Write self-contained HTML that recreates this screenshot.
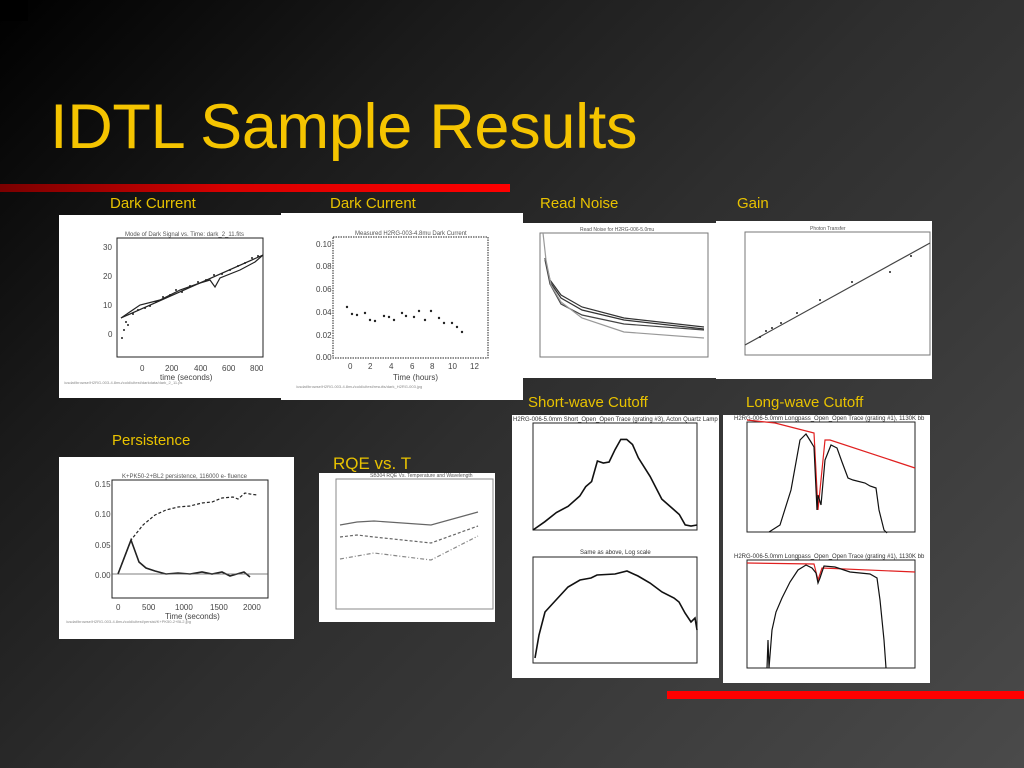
<!DOCTYPE html>
<html><head><meta charset="utf-8"><style>
html,body{margin:0;padding:0}
body{width:1024px;height:768px;overflow:hidden;position:relative;background:linear-gradient(135deg,#000 0%,#1a1a1a 25%,#2e2e2e 50%,#3c3c3c 75%,#4a4a4a 100%);font-family:"Liberation Sans",sans-serif}
.t{position:absolute;left:50px;top:91px;font-size:63px;color:#f5c400;white-space:nowrap;letter-spacing:-0.3px}
.l{position:absolute;color:#e8c200;font-size:15px;white-space:nowrap}
.bar{position:absolute;height:8px}
.sq{position:absolute;left:0;top:0;width:28px;height:21px;background:#000}
svg{position:absolute;left:0;top:0}
</style></head><body>
<div class="sq"></div>
<div class="t">IDTL Sample Results</div>
<div class="bar" style="left:0;top:184px;width:510px;background:linear-gradient(90deg,#7a0000,#d80000 45%,#ff0000)"></div>
<div class="bar" style="left:667px;top:691px;width:357px;background:#ff0000"></div>
<div class="l" style="left:110px;top:195px">Dark Current</div>
<div class="l" style="left:330px;top:195px">Dark Current</div>
<div class="l" style="left:540px;top:195px">Read Noise</div>
<div class="l" style="left:737px;top:195px">Gain</div>
<div class="l" style="left:528px;top:394px">Short-wave Cutoff</div>
<div class="l" style="left:746px;top:394px">Long-wave Cutoff</div>
<div class="l" style="left:112px;top:432px">Persistence</div>
<div class="l" style="left:333px;top:454px;font-size:17px">RQE vs. T</div>
<svg width="1024" height="768" viewBox="0 0 1024 768" font-family="Liberation Sans,sans-serif">
<g fill="#fff">
<rect x="59" y="215" width="223" height="183"/>
<rect x="281" y="213" width="242" height="187"/>
<rect x="523" y="223" width="194" height="155"/>
<rect x="716" y="221" width="216" height="158"/>
<rect x="59" y="457" width="235" height="182"/>
<rect x="319" y="473" width="176" height="149"/>
<rect x="512" y="415" width="207" height="263"/>
<rect x="723" y="415" width="207" height="268"/>
</g>
<g fill="none" stroke="#222" stroke-width="1">
<rect x="117" y="238" width="146" height="119"/>
<rect x="333" y="237" width="155" height="121" stroke-dasharray="1.5 1"/>
<rect x="540" y="233" width="168" height="124" stroke="#777"/>
<rect x="745" y="232" width="185" height="123" stroke="#777"/>
<rect x="112" y="480" width="156" height="118"/>
<rect x="336" y="479" width="157" height="130" stroke="#888"/>
<rect x="533" y="423" width="164" height="107"/>
<rect x="533" y="557" width="164" height="106"/>
<rect x="747" y="422" width="168" height="110"/>
<rect x="747" y="560" width="168" height="108"/>
</g>
<g font-size="6" fill="#555">
<text x="125" y="236">Mode of Dark Signal vs. Time: dark_2_11.fits</text>
<text x="355" y="235">Measured H2RG-003-4.8mu Dark Current</text>
<text x="580" y="231" font-size="5">Read Noise for H2RG-006-5.0mu</text>
<text x="810" y="230" font-size="5">Photon Transfer</text>
<text x="122" y="478">K+PK50-2+BL2 persistence, 116000 e- fluence</text>
<text x="370" y="477" font-size="5">SB304 RQE Vs. Temperature and Wavelength</text>
<text x="513" y="421" font-size="6" fill="#333">H2RG-006-5.0mm Short_Open_Open Trace (grating #3), Acton Quartz Lamp</text>
<text x="734" y="420" font-size="6" fill="#333">H2RG-006-5.0mm Longpass_Open_Open Trace (grating #1), 1130K bb</text>
<text x="580" y="554" font-size="6" fill="#333">Same as above, Log scale</text>
<text x="734" y="558" font-size="6" fill="#333">H2RG-006-5.0mm Longpass_Open_Open Trace (grating #1), 1130K bb</text>
</g>
<g font-size="8" fill="#444">
<text x="140" y="371">0</text><text x="165" y="371">200</text><text x="194" y="371">400</text><text x="222" y="371">600</text><text x="250" y="371">800</text>
<text x="160" y="380">time (seconds)</text>
<text x="103" y="250">30</text><text x="103" y="279">20</text><text x="103" y="308">10</text><text x="108" y="337">0</text>
<text x="316" y="247">0.10</text><text x="316" y="269">0.08</text><text x="316" y="292">0.06</text><text x="316" y="315">0.04</text><text x="316" y="338">0.02</text><text x="316" y="360">0.00</text>
<text x="348" y="369">0</text><text x="368" y="369">2</text><text x="389" y="369">4</text><text x="410" y="369">6</text><text x="430" y="369">8</text><text x="448" y="369">10</text><text x="470" y="369">12</text>
<text x="393" y="380">Time (hours)</text>
<text x="95" y="487">0.15</text><text x="95" y="517">0.10</text><text x="95" y="548">0.05</text><text x="95" y="578">0.00</text>
<text x="116" y="610">0</text><text x="142" y="610">500</text><text x="175" y="610">1000</text><text x="210" y="610">1500</text><text x="243" y="610">2000</text>
<text x="165" y="619">Time (seconds)</text>
</g>
<g fill="none" stroke-width="1.2">
<line x1="121" y1="318" x2="263" y2="255" stroke="#222"/>
<polyline stroke="#222" points="121,318 140,305 160,300 180,290 200,283 210,280 215,287 220,278 240,270 255,262 263,255"/>
<polyline stroke="#333" points="545,258 550,280 561,295 582,307 624,318 704,327"/>
<polyline stroke="#333" points="545,258 550,282 561,298 582,310 624,320 704,329"/>
<polyline stroke="#444" points="545,260 550,284 561,304 582,315 624,324 704,330"/>
<polyline stroke="#999" points="543,233 546,260 551,285 561,302 582,318 624,332 704,338"/>
<line x1="745" y1="345" x2="930" y2="243" stroke="#444"/>
<polyline stroke="#666" points="340,525 357,522 374,521 431,525 478,512"/>
<polyline stroke="#666" stroke-dasharray="3 2" points="340,537 357,535 374,537 431,543 478,526"/>
<polyline stroke="#888" stroke-dasharray="4 2 1 2" points="340,559 357,556 374,553 431,560 478,536"/>
<polyline stroke="#222" stroke-dasharray="3 2" points="118,574 131,540 143,525 155,515 166,510 178,507 190,506 202,503 212,502 222,498 233,497 238,499 245,493 250,494 257,495"/>
<polyline stroke="#222" stroke-width="1.6" points="118,574 131,540 139,562 146,568 155,571 166,574 178,573 190,574 202,572 212,574 222,572 230,576 237,574 244,572 250,577"/>
<line x1="112" y1="574" x2="268" y2="574" stroke="#555" stroke-width="0.8"/>
<polyline stroke="#111" stroke-width="1.6" points="533,530 544.7,521.8 556.4,512.5 568.1,506.3 579.8,496 585.7,486.7 591.6,481.6 597.4,461 603.3,463 609.1,462 615,449.7 620.8,439.4 626.7,439.4 632.5,444.5 638.4,457.9 650.1,476.4 661.8,499.1 673.5,509.4 679.3,514.5 685.2,524.9 691,526 697,525"/>
<polyline stroke="#111" stroke-width="1.6" points="535,658 539,635 545,612 556,600 568,587 580,580 591,578 597,575 615,574 627,571 638,576 650,583 662,592 674,598 679,602 685,613 691,622 695,618 697,630"/>
<polyline stroke="#e02020" points="747,420 775,423 814,433 818,510 825,440 830,440 915,468"/>
<polyline stroke="#111" points="769,532 780,525 791,490 800,440 806,434 811,442 814,447 817,510 818,495 821,505 825,460 831,445 837,448 842,462 848,478 853,480 865,483 870,486 876,488 879,510 884,530 887,533"/>
<polyline stroke="#e02020" points="747,563 814,564 816,572 818,580 822,568 915,572"/>
<polyline stroke="#111" points="767,668 768,640 769,668 772,630 776,612 782,598 790,582 798,570 806,565 812,568 816,573 818,583 820,578 824,566 835,567 850,572 870,574 877,578 880,600 884,640 886,668"/>
</g>
<g fill="#222">
<circle cx="122" cy="338" r="1"/><circle cx="124" cy="330" r="1"/><circle cx="126" cy="322" r="1"/><circle cx="128" cy="325" r="1"/><circle cx="133" cy="314" r="1"/><circle cx="138" cy="310" r="1"/><circle cx="145" cy="308" r="1"/><circle cx="150" cy="306" r="1"/><circle cx="156" cy="302" r="1"/><circle cx="163" cy="297" r="1"/><circle cx="170" cy="295" r="1"/><circle cx="176" cy="290" r="1"/><circle cx="182" cy="292" r="1"/><circle cx="190" cy="286" r="1"/><circle cx="198" cy="282" r="1"/><circle cx="206" cy="280" r="1"/><circle cx="214" cy="275" r="1"/><circle cx="222" cy="274" r="1"/><circle cx="230" cy="270" r="1"/><circle cx="238" cy="266" r="1"/><circle cx="245" cy="263" r="1"/><circle cx="252" cy="258" r="1"/><circle cx="258" cy="256" r="1"/>
<circle cx="347" cy="307" r="1.2"/><circle cx="352" cy="314" r="1.2"/><circle cx="357" cy="315" r="1.2"/><circle cx="365" cy="313" r="1.2"/><circle cx="370" cy="320" r="1.2"/><circle cx="375" cy="321" r="1.2"/><circle cx="384" cy="316" r="1.2"/><circle cx="389" cy="317" r="1.2"/><circle cx="394" cy="320" r="1.2"/><circle cx="402" cy="313" r="1.2"/><circle cx="406" cy="316" r="1.2"/><circle cx="414" cy="317" r="1.2"/><circle cx="419" cy="311" r="1.2"/><circle cx="425" cy="320" r="1.2"/><circle cx="431" cy="311" r="1.2"/><circle cx="439" cy="318" r="1.2"/><circle cx="444" cy="323" r="1.2"/><circle cx="452" cy="323" r="1.2"/><circle cx="457" cy="327" r="1.2"/><circle cx="462" cy="332" r="1.2"/>
<circle cx="760" cy="337" r="1"/><circle cx="766" cy="331" r="1"/><circle cx="772" cy="328" r="1"/><circle cx="781" cy="323" r="1"/><circle cx="797" cy="313" r="1"/><circle cx="820" cy="300" r="1"/><circle cx="852" cy="282" r="1"/><circle cx="890" cy="272" r="1"/><circle cx="911" cy="256" r="1"/>
</g>
<g font-size="4" fill="#888">
<text x="64" y="384">/usdat/browse/H2RG-003-4.8mu/cold/ultest/darkdata/dark_2_11.ps</text>
<text x="296" y="388">/usdat/browse/H2RG-003-4.8mu/cold/ultest/results/dark_H2RG-003.jpg</text>
<text x="66" y="623">/usdat/browse/H2RG-003-4.8mu/cold/ultest/persist/K+PK50-2+BL2.jpg</text>
</g>
</svg>
</body></html>
